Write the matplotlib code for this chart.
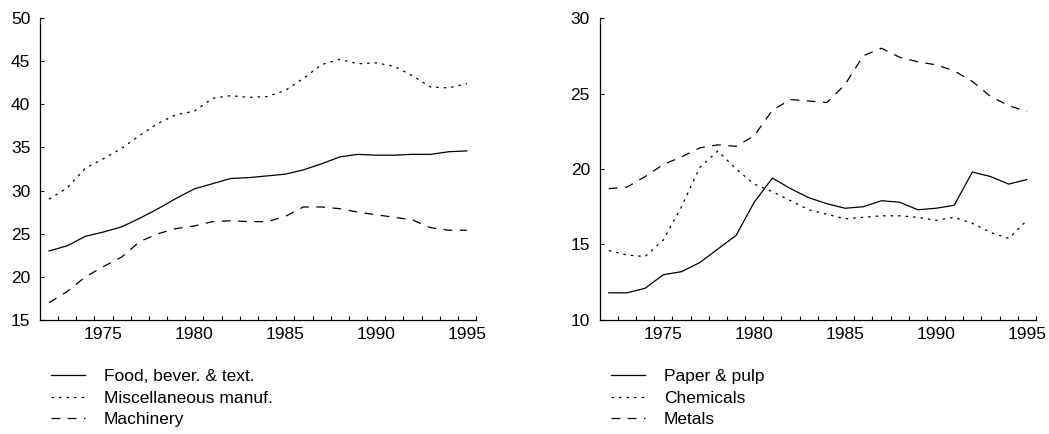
import matplotlib
matplotlib.use("Agg")
import matplotlib.pyplot as plt
from matplotlib.ticker import MultipleLocator, FixedLocator

plt.rcParams['font.family'] = ['Liberation Sans', 'DejaVu Sans']

years = list(range(1972, 1996))

# left panel
food = [23.0, 23.6, 24.7, 25.2, 25.8, 26.8, 27.9, 29.1, 30.2, 30.8, 31.4, 31.5,
        31.7, 31.9, 32.4, 33.1, 33.9, 34.2, 34.1, 34.1, 34.2, 34.2, 34.5, 34.6]
misc = [29.0, 30.3, 32.6, 33.7, 34.9, 36.4, 37.8, 38.8, 39.2, 40.7, 41.0, 40.8,
        40.9, 41.6, 43.0, 44.6, 45.2, 44.7, 44.8, 44.4, 43.3, 42.0, 41.9, 42.4]
machinery = [17.0, 18.3, 20.0, 21.2, 22.3, 24.1, 25.0, 25.6, 25.9, 26.4, 26.5, 26.4,
             26.4, 27.0, 28.1, 28.1, 27.9, 27.5, 27.2, 26.9, 26.6, 25.7, 25.4, 25.4]

# right panel
paper = [11.8, 11.8, 12.1, 13.0, 13.2, 13.8, 14.7, 15.6, 17.8, 19.4, 18.7, 18.1,
         17.7, 17.4, 17.5, 17.9, 17.8, 17.3, 17.4, 17.6, 19.8, 19.5, 19.0, 19.3]
chemicals = [14.6, 14.3, 14.2, 15.3, 17.5, 20.1, 21.2, 20.0, 19.0, 18.5, 17.9, 17.3,
             17.0, 16.7, 16.8, 16.9, 16.9, 16.8, 16.6, 16.8, 16.4, 15.8, 15.4, 16.6]
metals = [18.7, 18.8, 19.5, 20.3, 20.8, 21.4, 21.6, 21.5, 22.2, 23.9, 24.6, 24.5,
          24.4, 25.6, 27.5, 28.0, 27.4, 27.1, 26.9, 26.5, 25.8, 24.8, 24.2, 23.8]

left_labels = ['Food, bever. & text.', 'Miscellaneous manuf.', 'Machinery']
right_labels = ['Paper & pulp', 'Chemicals', 'Metals']

styles = ['-', (0, (2, 4)), (0, (7, 6))]
FS = 12.5

fig = plt.figure(figsize=(10.49, 4.34), dpi=100)
ax1 = fig.add_axes([0.0381, 0.2627, 0.4157, 0.6958])
ax2 = fig.add_axes([0.5717, 0.2627, 0.4159, 0.6958])


def draw_panel(ax, series, labels, ylim):
    for vals, ls, lab in zip(series, styles, labels):
        ax.plot(years, vals, color='black', linestyle=ls, linewidth=0.9, label=lab)
    ax.set_xlim(1971.5, 1995.5)
    ax.set_ylim(*ylim)
    ax.yaxis.set_major_locator(MultipleLocator(5))
    ax.xaxis.set_major_locator(FixedLocator([1975, 1980, 1985, 1990, 1995]))
    ax.xaxis.set_minor_locator(FixedLocator([y + 0.5 for y in range(1972, 1996)]))
    for s in ['top', 'right']:
        ax.spines[s].set_visible(False)
    for s in ['left', 'bottom']:
        ax.spines[s].set_linewidth(0.9)
    ax.tick_params(axis='x', which='major', length=0, pad=5, labelsize=FS)
    ax.tick_params(axis='x', which='minor', direction='in', length=3, width=0.8)
    ax.tick_params(axis='y', which='major', direction='in', length=3, width=0.8,
                   pad=7, labelsize=FS)
    ax.legend(loc='upper left', bbox_to_anchor=(11 / 436, -0.163), frameon=False,
              fontsize=FS, handlelength=1.95, handletextpad=1.1,
              labelspacing=0.36, borderaxespad=0, borderpad=0)


draw_panel(ax1, [food, misc, machinery], left_labels, (15, 50))
draw_panel(ax2, [paper, chemicals, metals], right_labels, (10, 30))

fig.savefig('out.png', dpi=100)
